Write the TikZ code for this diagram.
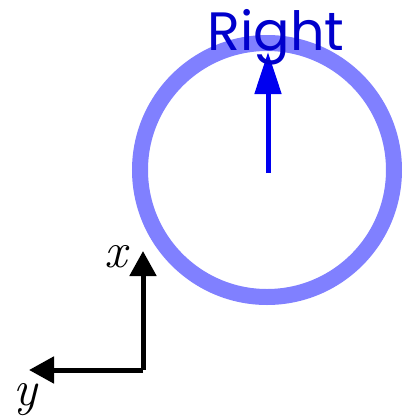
\documentclass[tikz,border=0pt]{standalone}
\usepackage{fontspec}
\newfontfamily\poppins{Poppins}
\usetikzlibrary{arrows.meta}
\definecolor{ringblue}{RGB}{128,128,255}
\definecolor{vecblue}{RGB}{0,0,240}
\definecolor{textblue}{RGB}{0,0,204}
\tikzset{
  axis/.style={line width=5pt, black, -{Triangle[width=26pt,length=25pt]}},
  vec/.style={line width=5pt, vecblue, -{Triangle[width=26pt,length=42pt]}},
  ring/.style={line width=16pt, ringblue},
  lbl/.style={inner sep=0pt},
  axlbl/.style={inner sep=0pt, font=\fontsize{50}{50}\selectfont\itshape}
}
\begin{document}
\begin{tikzpicture}[x=1pt,y=-1pt]
\useasboundingbox (0,0) rectangle (403,416);
\coordinate (c) at (267,170);
\draw[ring] (c) circle[radius=127];
\coordinate (vtail) at (268,173);
\coordinate (vtip) at (268,52);
\draw[vec] (vtail) -- (vtip);
\node[lbl, anchor=base, text=textblue, font=\poppins\fontsize{54}{54}\selectfont] (right) at (276,50) {Right};
\coordinate (o) at (143,370);
\coordinate (xt) at (143,251);
\coordinate (yt) at (29,370);
\draw[axis] (o) -- (xt);
\draw[axis] (o) -- (yt);
\node[axlbl, anchor=base] (xl) at (116,267) {x};
\node[axlbl, anchor=base] (yl) at (25,405) {y};
\end{tikzpicture}
\end{document}
